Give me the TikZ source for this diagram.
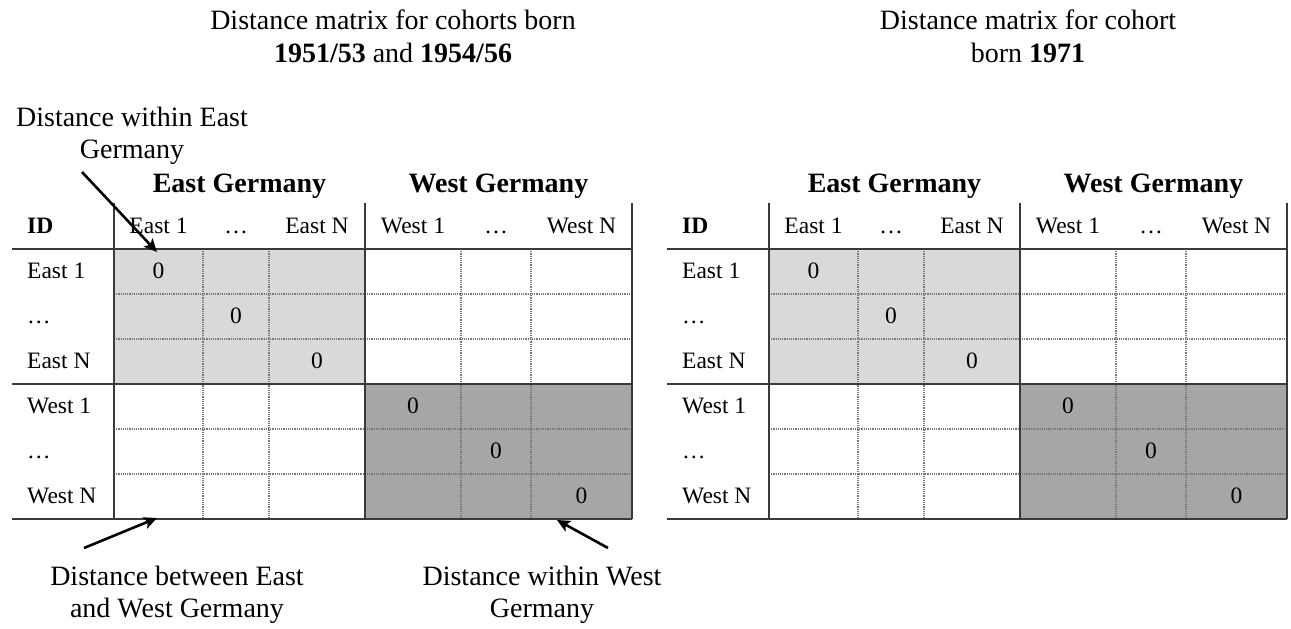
\documentclass[tikz,border=0pt]{standalone}
\usepackage{fontspec}
\setmainfont{Liberation Serif}
\usetikzlibrary{arrows.meta}
\definecolor{lightfill}{HTML}{D9D9D9}
\definecolor{darkfill}{HTML}{A6A6A6}
\definecolor{rulecol}{HTML}{3A3A3A}
\definecolor{dotcol}{HTML}{777777}
\begin{document}
\begin{tikzpicture}[x=1pt,y=-1pt,
  solidline/.style={draw=rulecol,line width=1.6pt},
  dotline/.style={draw=dotcol,line width=1.2pt,dash pattern=on 1.2pt off 1pt},
  cell/.style={inner sep=0pt,anchor=base,font=\fontsize{23.5}{27}\selectfont},
  rowlab/.style={inner sep=0pt,anchor=base west,font=\fontsize{23.5}{27}\selectfont},
  grp/.style={inner sep=0pt,anchor=base,font=\fontsize{28}{32}\selectfont\bfseries},
  annot/.style={inner sep=0pt,anchor=base,font=\fontsize{28}{32}\selectfont},
  arrowline/.style={draw=black,line width=2.6pt,-{Stealth[length=13pt,width=12pt,inset=3pt]}}
]
\useasboundingbox (0,0) rectangle (1291,629);

% titles
\node[annot] (tl1) at (393,29) {Distance matrix for cohorts born};
\node[annot] (tl2) at (393,62) {\textbf{1951/53} and \textbf{1954/56}};
\node[annot] (tr1) at (1028,29) {Distance matrix for cohort};
\node[annot] (tr2) at (1028,62) {born \textbf{1971}};

\foreach \t/\dx in {L/0,R/655}{
\begin{scope}[xshift=\dx pt]
  \fill[lightfill] (114,249) rectangle (365,384);
  \fill[darkfill] (365,384) rectangle (632,519);
  \foreach \xx in {203,269,461,531} \draw[dotline] (\xx,249) -- (\xx,519);
  \foreach \yy in {294,339,429,474} \draw[dotline] (114,\yy) -- (632,\yy);
  \foreach \yy in {249,384,519} \draw[solidline] (12,\yy) -- (632,\yy);
  \foreach \xx in {114,365,632} \draw[solidline] (\xx,203) -- (\xx,519);
  % group headers
  \node[grp] (\t-ge) at (239.5,192) {East Germany};
  \node[grp] (\t-gw) at (498.5,192) {West Germany};
  % header row
  \node[rowlab,font=\fontsize{23.5}{27}\selectfont\bfseries] (\t-id) at (27,233) {ID};
  \node[cell] (\t-h1) at (158.5,233) {East 1};
  \node[cell] (\t-h2) at (236,233) {\dots};
  \node[cell] (\t-h3) at (317,233) {East N};
  \node[cell] (\t-h4) at (413,233) {West 1};
  \node[cell] (\t-h5) at (496,233) {\dots};
  \node[cell] (\t-h6) at (581.5,233) {West N};
  % row labels
  \node[rowlab] (\t-r1) at (27,278) {East 1};
  \node[rowlab] (\t-r2) at (27,323) {\dots};
  \node[rowlab] (\t-r3) at (27,368) {East N};
  \node[rowlab] (\t-r4) at (27,413) {West 1};
  \node[rowlab] (\t-r5) at (27,458) {\dots};
  \node[rowlab] (\t-r6) at (27,503) {West N};
  % diagonal zeros
  \node[cell] (\t-z1) at (158.5,278) {0};
  \node[cell] (\t-z2) at (236,323) {0};
  \node[cell] (\t-z3) at (317,368) {0};
  \node[cell] (\t-z4) at (413,413) {0};
  \node[cell] (\t-z5) at (496,458) {0};
  \node[cell] (\t-z6) at (581.5,503) {0};
\end{scope}
}

% annotations
\node[annot] (aw1) at (132,126) {Distance within East};
\node[annot] (aw2) at (132,158) {Germany};
\node[annot] (ab1) at (177,585) {Distance between East};
\node[annot] (ab2) at (177,617) {and West Germany};
\node[annot] (ww1) at (542,585) {Distance within West};
\node[annot] (ww2) at (542,617) {Germany};

\coordinate (a1s) at (82,172);
\coordinate (a1e) at (157,252);
\coordinate (a2s) at (84,548);
\coordinate (a2e) at (157,518);
\coordinate (a3s) at (608,548);
\coordinate (a3e) at (557,520);
\draw[arrowline] (a1s) -- (a1e);
\draw[arrowline] (a2s) -- (a2e);
\draw[arrowline] (a3s) -- (a3e);
\end{tikzpicture}
\end{document}
